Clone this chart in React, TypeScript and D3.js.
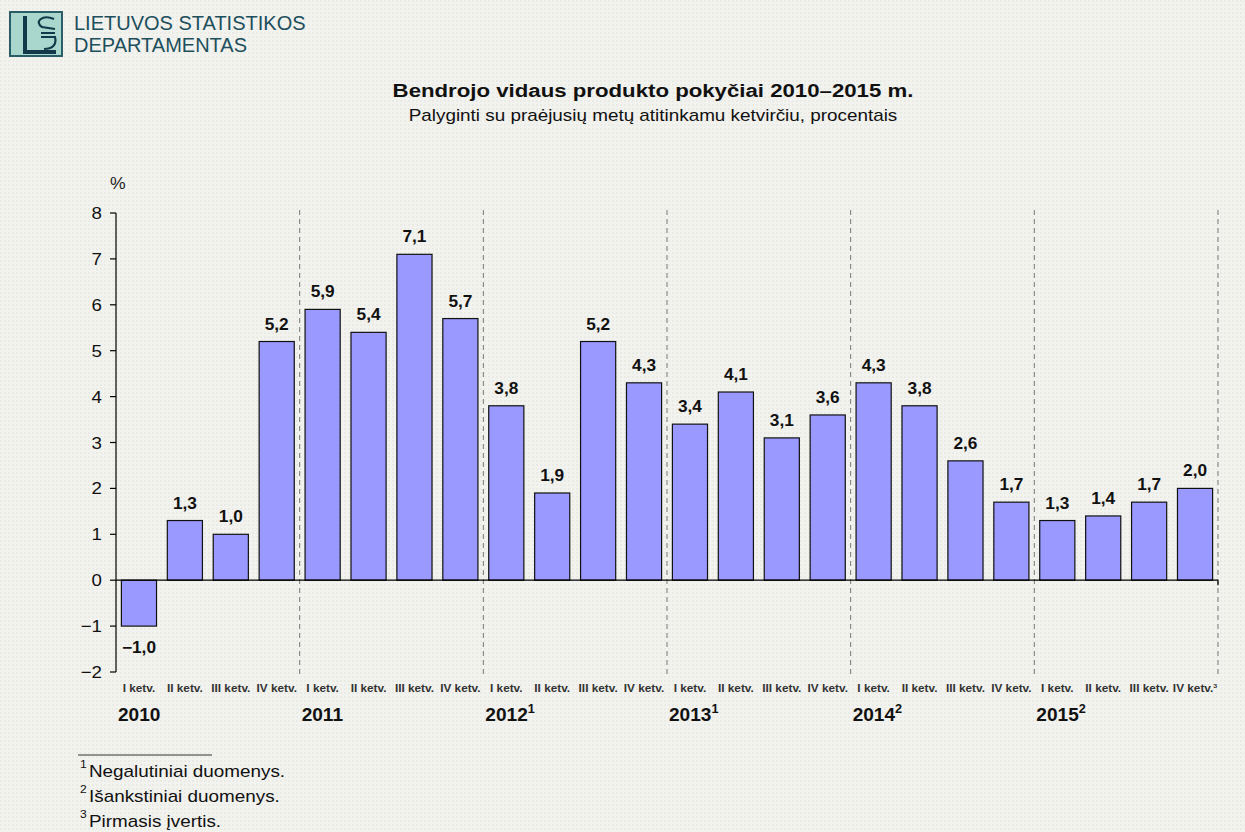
import React from "react";
import * as d3 from "d3";

const years = ["2010", "2011", "2012", "2013", "2014", "2015"];
const yearSup = ["", "", "1", "1", "2", "2"];
const quarters = ["I ketv.", "II ketv.", "III ketv.", "IV ketv."];
const values = [
  -1.0, 1.3, 1.0, 5.2,
  5.9, 5.4, 7.1, 5.7,
  3.8, 1.9, 5.2, 4.3,
  3.4, 4.1, 3.1, 3.6,
  4.3, 3.8, 2.6, 1.7,
  1.3, 1.4, 1.7, 2.0,
];
const yTicks = [-2, -1, 0, 1, 2, 3, 4, 5, 6, 7, 8];
const footnotes = [
  { sup: "1", text: "Negalutiniai duomenys." },
  { sup: "2", text: "Išankstiniai duomenys." },
  { sup: "3", text: "Pirmasis įvertis." },
];

const W = 1245;
const H = 832;
const left = 116;
const right = 1218;
const fmt = (v: number) => v.toFixed(1).replace(".", ",").replace("-", "\u2212");

function T(props: any) {
  const { x, y, sx = 1, children, ...rest } = props;
  return (
    <text transform={`translate(${x},${y}) scale(${sx},1)`} {...rest}>
      {children}
    </text>
  );
}

export default function App() {
  const keys = values.map((_, i) => String(i));
  const x = d3.scaleBand<string>().domain(keys).range([left, right]).paddingInner(0.235).paddingOuter(0.1175);
  const y = d3.scaleLinear().domain([-2, 8]).range([672, 213]);
  const step = x.step();
  const font = "Arial, 'Liberation Sans', sans-serif";

  return (
    <svg width={W} height={H} style={{ position: "absolute", left: 0, top: 0, display: "block" }} fontFamily={font}>
      <defs>
        <pattern id="tex" width="4" height="4" patternUnits="userSpaceOnUse">
          <rect width="4" height="4" fill="#f2f2ee" />
          <rect width="2" height="2" fill="#ebebe6" />
        </pattern>
      </defs>
      <rect width={W} height={H} fill="url(#tex)" />

      {/* logo */}
      <g>
        <rect x={10} y={12} width={52} height={44} fill="#a9d7cd" stroke="#2b5d66" strokeWidth={2} />
        <path d="M25 16 L25 52 L56 52" fill="none" stroke="#123a4a" strokeWidth={4} />
        <path d="M54 19 C42 14 34 22 42 27 L55 29 M41 33 L55 33 M41 37 L55 37 C57 45 52 49 44 49" fill="none" stroke="#123a4a" strokeWidth={2.2} />
        <text x={74} y={30} fontSize={20} fill="#1d4f5c" fontFamily="'Liberation Sans', Arial, sans-serif">LIETUVOS STATISTIKOS</text>
        <text x={74} y={52} fontSize={20} fill="#1d4f5c" fontFamily="'Liberation Sans', Arial, sans-serif">DEPARTAMENTAS</text>
      </g>

      {/* titles */}
      <T x={653} y={97} sx={1.17} textAnchor="middle" fontSize={19} fontWeight="bold" fill="#111">
        Bendrojo vidaus produkto pokyčiai 2010–2015 m.
      </T>
      <T x={653} y={121} sx={1.18} textAnchor="middle" fontSize={16} fill="#111">
        Palyginti su praėjusių metų atitinkamu ketvirčiu, procentais
      </T>

      {/* % label */}
      <T x={110} y={189} sx={1.1} fontSize={16} fill="#222">%</T>

      {/* year separators */}
      {years.map((_, i) => {
        const xv = left + (i + 1) * step * 4;
        return (
          <line key={"sep" + i} x1={xv} x2={xv} y1={210} y2={674} stroke="#777" strokeWidth={1} strokeDasharray="5,4" />
        );
      })}

      {/* y axis */}
      <line x1={left} x2={left} y1={y(8)} y2={y(-2)} stroke="#000" strokeWidth={1.2} />
      {yTicks.map((t) => (
        <g key={"t" + t}>
          <line x1={left - 6} x2={left} y1={y(t)} y2={y(t)} stroke="#000" strokeWidth={1.2} />
          <T x={left - 14} y={y(t) + 6} sx={1.1} textAnchor="end" fontSize={17} fill="#111">
            {t < 0 ? "\u2212" + Math.abs(t) : t}
          </T>
        </g>
      ))}

      {/* bars */}
      {values.map((v, i) => {
        const bx = x(String(i))!;
        const y0 = y(0);
        const yv = y(v);
        return (
          <g key={"b" + i}>
            <rect x={bx} y={Math.min(y0, yv)} width={x.bandwidth()} height={Math.abs(yv - y0)} fill="#9999ff" stroke="#111" strokeWidth={1.2} />
            <T
              x={bx + x.bandwidth() / 2}
              y={v >= 0 ? yv - 12 : yv + 27}
              sx={1.08}
              textAnchor="middle"
              fontSize={16}
              fontWeight="bold"
              fill="#111"
            >
              {fmt(v)}
            </T>
          </g>
        );
      })}

      {/* zero line */}
      <line x1={left} x2={right} y1={y(0)} y2={y(0)} stroke="#000" strokeWidth={1.2} />
      <line x1={right} x2={right} y1={y(0)} y2={y(0) + 5} stroke="#000" strokeWidth={1.2} />

      {/* quarter labels */}
      {values.map((_, i) => {
        const q = i % 4;
        const cx = left + (i + 0.5) * step;
        const last = i === values.length - 1;
        return (
          <T key={"q" + i} x={cx} y={692} sx={1.18} textAnchor="middle" fontSize={10} fontWeight="bold" fill="#333">
            {quarters[q]}
            {last ? <tspan fontSize={6} dy={-4}>3</tspan> : null}
          </T>
        );
      })}

      {/* year labels */}
      {years.map((yr, i) => (
        <T key={"y" + i} x={left + i * step * 4 + 2} y={721} sx={1.06} fontSize={18} fontWeight="bold" fill="#111">
          {yr}
          {yearSup[i] ? <tspan fontSize={12} dy={-8}>{yearSup[i]}</tspan> : null}
        </T>
      ))}

      {/* footnotes */}
      <line x1={78} x2={212} y1={755} y2={755} stroke="#333" strokeWidth={1} />
      {footnotes.map((f, i) => (
        <g key={"f" + i}>
          <T x={80} y={768 + i * 25} sx={1.1} fontSize={11} fill="#111">{f.sup}</T>
          <T x={89} y={777 + i * 25} sx={1.18} fontSize={16} fill="#111">{f.text}</T>
        </g>
      ))}
    </svg>
  );
}
